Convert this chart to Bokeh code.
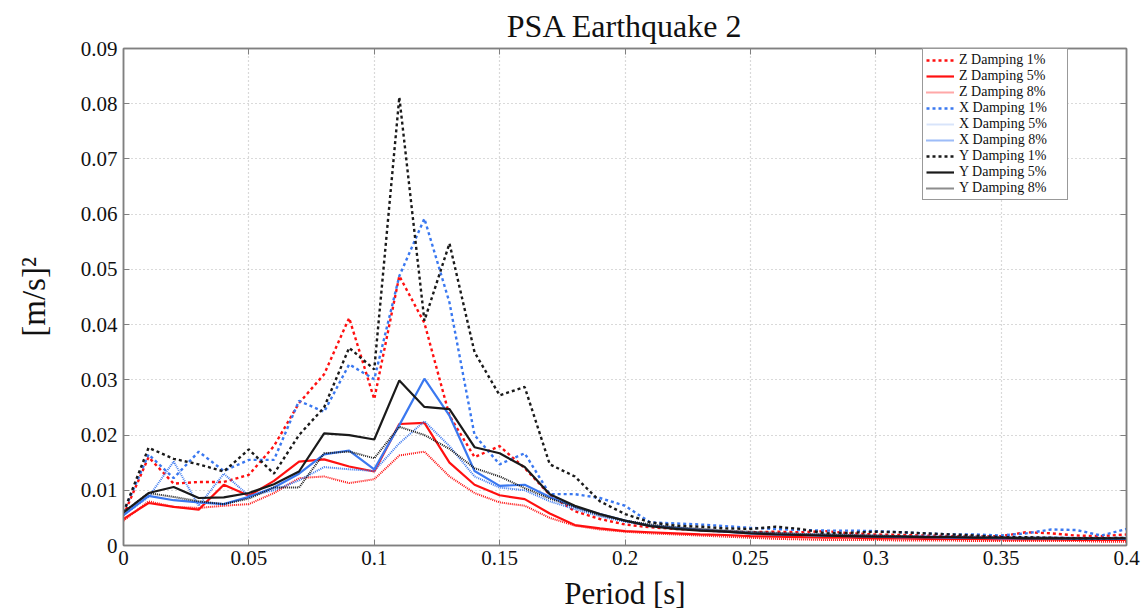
from bokeh.plotting import figure
from bokeh.models import Legend, LegendItem, FixedTicker, Range1d, ColumnDataSource, LinearAxis
from bokeh.embed import file_html
from bokeh.resources import INLINE

# ---------------- data ----------------
period = [round(i * 0.01, 2) for i in range(41)]

z_d1 = [0.0055, 0.0160, 0.0112, 0.0115, 0.0115, 0.0128, 0.0180, 0.0258, 0.0310, 0.0412,
        0.0265, 0.0488, 0.0403, 0.0235, 0.0160, 0.0180, 0.0140, 0.0092, 0.0062, 0.0048,
        0.0038, 0.0033, 0.0030, 0.0028, 0.0025, 0.0024, 0.0025, 0.0024, 0.0026, 0.0022,
        0.0020, 0.0019, 0.0018, 0.0017, 0.0016, 0.0017, 0.0024, 0.0022, 0.0018, 0.0017, 0.0020]
z_d5 = [0.0048, 0.0077, 0.0070, 0.0065, 0.0110, 0.0090, 0.0117, 0.0152, 0.0156, 0.0143,
        0.0134, 0.0220, 0.0222, 0.0150, 0.0110, 0.0091, 0.0084, 0.0058, 0.0037, 0.0031,
        0.0026, 0.0024, 0.0022, 0.0020, 0.0019, 0.0017, 0.0016, 0.0015, 0.0014, 0.0014,
        0.0013, 0.0013, 0.0012, 0.0012, 0.0012, 0.0011, 0.0011, 0.0011, 0.0010, 0.0010, 0.0010]
z_d8 = [0.0045, 0.0080, 0.0070, 0.0068, 0.0072, 0.0075, 0.0095, 0.0122, 0.0125, 0.0113,
        0.0120, 0.0163, 0.0170, 0.0125, 0.0095, 0.0078, 0.0072, 0.0050, 0.0036, 0.0029,
        0.0025, 0.0022, 0.0020, 0.0018, 0.0016, 0.0014, 0.0012, 0.0011, 0.0010, 0.0010,
        0.0010, 0.0009, 0.0009, 0.0009, 0.0008, 0.0008, 0.0008, 0.0008, 0.0008, 0.0007, 0.0007]
x_d1 = [0.0060, 0.0165, 0.0122, 0.0170, 0.0135, 0.0155, 0.0155, 0.0262, 0.0242, 0.0328,
        0.0301, 0.0488, 0.0592, 0.0440, 0.0200, 0.0147, 0.0167, 0.0093, 0.0093, 0.0086,
        0.0072, 0.0042, 0.0040, 0.0038, 0.0035, 0.0032, 0.0030, 0.0028, 0.0027, 0.0027,
        0.0026, 0.0024, 0.0022, 0.0020, 0.0020, 0.0018, 0.0022, 0.0029, 0.0028, 0.0018, 0.0030]
x_d5 = [0.0055, 0.0090, 0.0082, 0.0078, 0.0075, 0.0088, 0.0105, 0.0130, 0.0165, 0.0172,
        0.0138, 0.0218, 0.0302, 0.0235, 0.0135, 0.0108, 0.0110, 0.0088, 0.0070, 0.0057,
        0.0045, 0.0036, 0.0032, 0.0028, 0.0025, 0.0022, 0.0020, 0.0019, 0.0018, 0.0017,
        0.0016, 0.0015, 0.0015, 0.0014, 0.0014, 0.0013, 0.0013, 0.0013, 0.0012, 0.0012, 0.0012]
x_d8 = [0.0055, 0.0088, 0.0152, 0.0072, 0.0130, 0.0090, 0.0100, 0.0118, 0.0142, 0.0138,
        0.0135, 0.0185, 0.0225, 0.0180, 0.0125, 0.0105, 0.0100, 0.0080, 0.0066, 0.0053,
        0.0043, 0.0036, 0.0032, 0.0029, 0.0026, 0.0024, 0.0022, 0.0021, 0.0020, 0.0019,
        0.0018, 0.0017, 0.0017, 0.0016, 0.0016, 0.0015, 0.0015, 0.0015, 0.0014, 0.0014, 0.0014]
y_d1 = [0.0060, 0.0177, 0.0157, 0.0147, 0.0134, 0.0174, 0.0130, 0.0200, 0.0250, 0.0358,
        0.0319, 0.0812, 0.0407, 0.0547, 0.0350, 0.0272, 0.0287, 0.0147, 0.0125, 0.0080,
        0.0057, 0.0042, 0.0036, 0.0034, 0.0031, 0.0030, 0.0034, 0.0030, 0.0022, 0.0023,
        0.0025, 0.0024, 0.0022, 0.0020, 0.0018, 0.0015, 0.0015, 0.0014, 0.0013, 0.0013, 0.0014]
y_d5 = [0.0060, 0.0095, 0.0106, 0.0086, 0.0087, 0.0095, 0.0111, 0.0134, 0.0203, 0.0200,
        0.0192, 0.0299, 0.0251, 0.0247, 0.0178, 0.0167, 0.0142, 0.0093, 0.0072, 0.0057,
        0.0045, 0.0035, 0.0030, 0.0027, 0.0025, 0.0022, 0.0020, 0.0019, 0.0018, 0.0017,
        0.0016, 0.0016, 0.0015, 0.0015, 0.0014, 0.0014, 0.0013, 0.0013, 0.0013, 0.0013, 0.0013]
y_d8 = [0.0060, 0.0095, 0.0088, 0.0080, 0.0075, 0.0085, 0.0105, 0.0105, 0.0167, 0.0170,
        0.0158, 0.0215, 0.0200, 0.0175, 0.0140, 0.0125, 0.0104, 0.0085, 0.0070, 0.0055,
        0.0045, 0.0038, 0.0033, 0.0030, 0.0027, 0.0025, 0.0023, 0.0021, 0.0020, 0.0019,
        0.0018, 0.0017, 0.0016, 0.0016, 0.0015, 0.0015, 0.0014, 0.0014, 0.0013, 0.0013, 0.0013]

series_names = ["Z Damping 1%", "Z Damping 5%", "Z Damping 8%",
                "X Damping 1%", "X Damping 5%", "X Damping 8%",
                "Y Damping 1%", "Y Damping 5%", "Y Damping 8%"]
series_values = [z_d1, z_d5, z_d8, x_d1, x_d5, x_d8, y_d1, y_d5, y_d8]

x_ticks = [0, 0.05, 0.1, 0.15, 0.2, 0.25, 0.3, 0.35, 0.4]
x_tick_labels = ["0", "0.05", "0.1", "0.15", "0.2", "0.25", "0.3", "0.35", "0.4"]
y_ticks = [0, 0.01, 0.02, 0.03, 0.04, 0.05, 0.06, 0.07, 0.08, 0.09]
y_tick_labels = ["0", "0.01", "0.02", "0.03", "0.04", "0.05", "0.06", "0.07", "0.08", "0.09"]

# ---------------- styles ----------------
RED, BLUE, BLACK = "#ff1010", "#3a78f0", "#1a1a1a"
styles = [
    dict(line_color=RED, line_width=2.4, line_dash="3 3"),
    dict(line_color=RED, line_width=2.2, line_dash="solid"),
    dict(line_color=RED, line_width=2.0, line_dash="1 1"),
    dict(line_color=BLUE, line_width=2.4, line_dash="3 3"),
    dict(line_color=BLUE, line_width=2.2, line_dash="solid"),
    dict(line_color=BLUE, line_width=2.0, line_dash="1 1"),
    dict(line_color=BLACK, line_width=2.4, line_dash="3 3"),
    dict(line_color=BLACK, line_width=2.2, line_dash="solid"),
    dict(line_color=BLACK, line_width=2.0, line_dash="1 1"),
]
legend_styles = list(styles)
legend_styles[2] = dict(line_color="#ff5050", line_width=2.0, line_dash="1 1")
legend_styles[4] = dict(line_color="#d8e4fa", line_width=2.0, line_dash="solid")
legend_styles[5] = dict(line_color=BLUE, line_width=2.0, line_dash="1 1")
legend_styles[8] = dict(line_color=BLACK, line_width=2.0, line_dash="1 1")

FONT = "Liberation Serif"
GRAY = "#808080"

p = figure(width=1148, height=614, output_backend="svg", toolbar_location=None,
           x_range=Range1d(0, 0.4), y_range=Range1d(0, 0.09),
           min_border_left=123, min_border_right=22, min_border_top=44, min_border_bottom=69)
p.background_fill_color = "white"
p.border_fill_color = "white"
p.outline_line_color = GRAY
p.outline_line_width = 1.5

p.title.text = "PSA Earthquake 2"
p.title.text_font = FONT
p.title.text_font_size = "32px"
p.title.text_font_style = "normal"
p.title.align = "center"
p.title.text_color = "#111111"

src = ColumnDataSource(dict(period=period, **{f"s{i}": v for i, v in enumerate(series_values)}))
items = []
for i, (name, st) in enumerate(zip(series_names, styles)):
    p.line("period", f"s{i}", source=src, **st)
    # legend swatch renderer, kept outside the visible ranges
    dummy = p.line(x=[-1.0, -0.9], y=[-1.0, -1.0], **legend_styles[i])
    items.append(LegendItem(label=name, renderers=[dummy]))

legend = Legend(items=items, location=(799, 345))
legend.label_text_font = FONT
legend.label_text_font_size = "14px"
legend.label_text_color = "#111111"
legend.label_height = 14
legend.label_width = 105
legend.glyph_height = 14
legend.glyph_width = 28
legend.label_standoff = 5
legend.spacing = 0
legend.padding = 3
legend.margin = 0
legend.border_line_color = "#333333"
legend.border_line_width = 1
legend.background_fill_alpha = 1.0
p.add_layout(legend, "center")

# axes
for ax, ticks, labels in ((p.xaxis[0], x_ticks, x_tick_labels), (p.yaxis[0], y_ticks, y_tick_labels)):
    ax.ticker = FixedTicker(ticks=ticks)
    ax.major_label_overrides = {t: l for t, l in zip(ticks, labels)}
    ax.major_label_text_font = FONT
    ax.major_label_text_font_size = "21px"
    ax.major_label_text_color = "#111111"
    ax.axis_line_color = GRAY
    ax.axis_line_width = 1.5
    ax.major_tick_line_color = GRAY
    ax.major_tick_in = 6
    ax.major_tick_out = 0
    ax.minor_tick_line_color = None
    ax.axis_label_text_font = FONT
    ax.axis_label_text_font_style = "normal"
    ax.axis_label_text_color = "#111111"

p.xaxis.axis_label = "Period [s]"
p.xaxis.axis_label_text_font_size = "31px"
p.xaxis.major_label_standoff = 5
p.xaxis.axis_label_standoff = 8
p.yaxis.axis_label = "[m/s]²"
p.yaxis.axis_label_text_font_size = "33px"
p.yaxis.major_label_standoff = 6
p.yaxis.axis_label_standoff = 26

# mirrored tick marks on the top and right edges (no labels)
for ticks, side in ((x_ticks, "above"), (y_ticks, "right")):
    mirror = LinearAxis(ticker=FixedTicker(ticks=ticks),
                        major_label_overrides={t: "" for t in ticks},
                        axis_line_color=GRAY, axis_line_width=1.5,
                        major_tick_line_color=GRAY, major_tick_in=6, major_tick_out=0,
                        minor_tick_line_color=None, major_label_standoff=0)
    p.add_layout(mirror, side)

# grid
for g, ticks in ((p.xgrid[0], x_ticks), (p.ygrid[0], y_ticks)):
    g.ticker = FixedTicker(ticks=ticks)
    g.grid_line_color = "#b4b4b4"
    g.grid_line_dash = "1 3"
    g.grid_line_width = 1.2

open("out.html", "w").write(file_html(p, INLINE))
